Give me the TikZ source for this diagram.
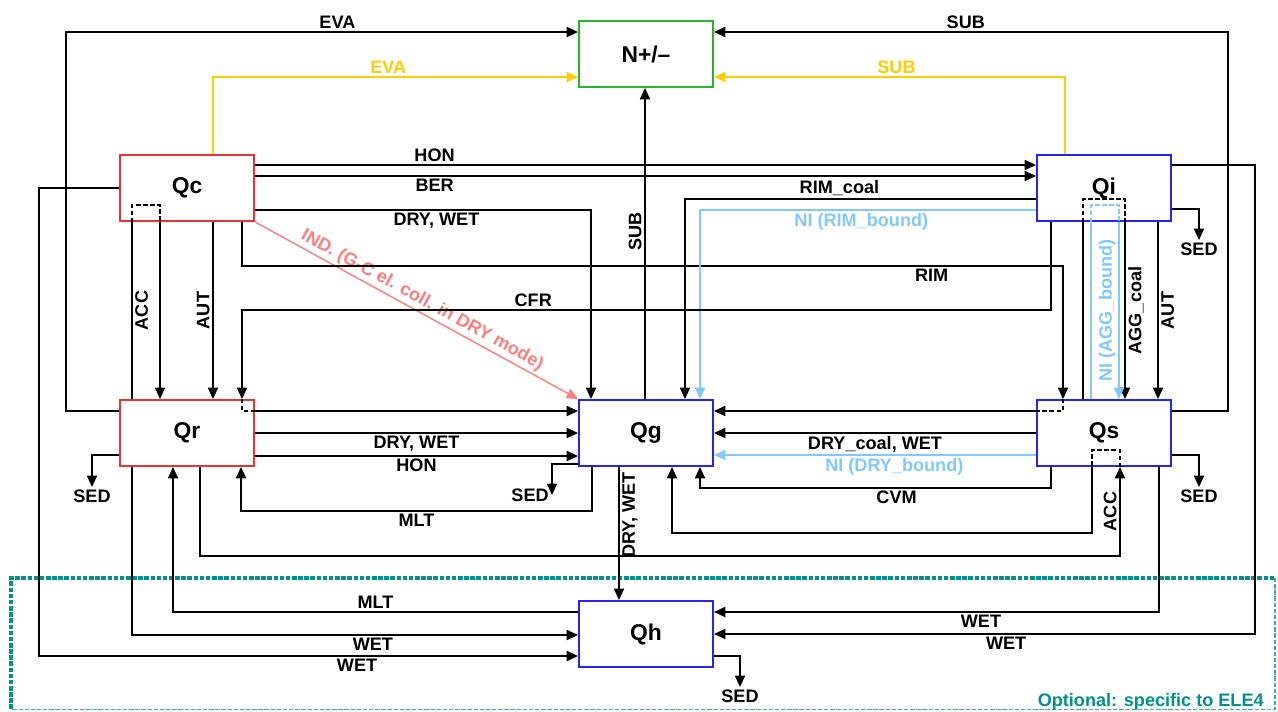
\documentclass[tikz,border=0pt]{standalone}
\usepackage{fontspec}
\setmainfont{Liberation Sans}
\usepackage{tikz}
\usetikzlibrary{arrows.meta}
\definecolor{qred}{RGB}{228,52,52}
\definecolor{qblue}{RGB}{35,35,250}
\definecolor{ngreen}{RGB}{40,180,40}
\definecolor{evay}{RGB}{255,205,0}
\definecolor{niblue}{RGB}{130,200,255}
\definecolor{indred}{RGB}{255,125,125}
\definecolor{optteal}{RGB}{0,145,140}
\newcommand{\lblfont}{\bfseries\fontsize{10.3}{12}\selectfont}

\begin{document}
\begin{tikzpicture}
    [x=0.02cm, y=-0.02cm, line width=0.8pt, >={Triangle[length=6.5pt,width=5.8pt]},
     box/.style={draw, line width=1.1pt, minimum width=2.68cm, minimum height=1.32cm,
       font=\bfseries\fontsize{13}{15}\selectfont},
     lbl/.style={font=\lblfont, inner sep=1.5pt},
     thru/.style={dash pattern=on 2.5pt off 1.5pt}]
    \useasboundingbox (0,0) rectangle (1278,711);
    % optional part
    \draw[optteal, line width=2.2pt, dash pattern=on 2.6pt off 0.9pt] (11,709) -- (11,578) -- (1275,578);
    \draw[optteal!75, line width=0.6pt, dash pattern=on 2.5pt off 1pt] (1275,578) -- (1275,709.5) -- (11,709.5);
    \node[lbl, text=optteal, anchor=east] (opt) at (1267,702) {Optional: specific to ELE4};
    % boxes
    \node[box, draw=ngreen] (N) at (646,54) {N+/–};
    \node[box, draw=qred] (Qc) at (187,188) {Qc};
    \node[box, draw=qblue] (Qi) at (1104,188) {Qi};
    \node[box, draw=qred] (Qr) at (187,433) {Qr};
    \node[box, draw=qblue] (Qg) at (646,433) {Qg};
    \node[box, draw=qblue] (Qs) at (1104,433) {Qs};
    \node[box, draw=qblue] (Qh) at (646,634) {Qh};
    % to N
    \draw[->] (Qr.west |- 0,411) -| (66,32) -- node[lbl,above,pos=.53] {EVA} (N.west |- 0,32);
    \draw[->,evay] (Qc.north -| 213,0) |- node[lbl,above,pos=.74] {EVA} (N.west |- 0,77);
    \draw[->] (Qs.east |- 0,411) -| (1228,32) -- node[lbl,above,pos=.51] {SUB} (N.east |- 0,32);
    \draw[->,evay] (Qi.north -| 1065,0) |- node[lbl,above,pos=.74] {SUB} (N.east |- 0,77);
    \draw[->] (Qg.north -| 645,0) -- node[lbl,above,sloped,pos=.54] {SUB} (N.south -| 645,0);
    % from Qc
    \draw[->] (Qc.east |- 0,165) -- node[lbl,above,pos=.23] {HON} (Qi.west |- 0,165);
    \draw[->] (Qc.east |- 0,176) -- node[lbl,below,pos=.23] {BER} (Qi.west |- 0,176);
    \draw[->] (Qc.east |- 0,210) -| node[lbl,below,pos=.27] {DRY, WET} (Qg.north -| 591,0);
    \draw[->,indred] (Qc.south east) -- node[lbl,above,sloped] {IND. (G-C el. coll. in DRY mode)} (Qg.north west);
    \draw[->] (Qc.south -| 242,0) |- node[lbl,below,pos=.92] {RIM} (1063,266) -- (Qs.north -| 1063,0);
    \draw[thru] (Qs.north -| 1063,0) |- (Qs.west |- 0,411);
    \draw[->] (Qs.west |- 0,411) -- (Qg.east |- 0,411);
    \draw[->] (Qc.west) -| (39,656) -- node[lbl,below,pos=.59] {WET} (Qh.west |- 0,656);
    \draw (Qr.north -| 132,0) -- node[lbl,below,sloped] {ACC} (Qc.south -| 132,0);
    \draw[thru] (Qc.south -| 132,0) |- (160,205) -- (Qc.south -| 160,0);
    \draw[->] (Qc.south -| 160,0) -- (Qr.north -| 160,0);
    \draw[<-] (Qr.north -| 213,0) -- node[lbl,above,sloped] {AUT} (Qc.south -| 213,0);
    % from Qr
    \draw[->] (Qr.east) -- node[lbl,below] {DRY, WET} (Qg.west);
    \draw[->] (Qr.east |- 0,456) -- node[lbl,below] {HON} (Qg.west |- 0,456);
    \draw[->] (Qr.west |- 0,455) -| (92,487) node[lbl,below] {SED};
    \draw[->] (Qr.south -| 200,0) |- (1120,556) -- node[lbl,above,sloped] {ACC} (Qs.south -| 1120,0);
    \draw[thru] (Qs.south -| 1120,0) |- (1092,450) -- (Qs.south -| 1092,0);
    \draw[->] (Qs.south -| 1092,0) |- (672,533) -- (Qg.south -| 672,0);
    \draw[->] (Qr.south -| 132,0) |- node[lbl,below,pos=.77] {WET} (Qh.west |- 0,635);
    % from Qg
    \draw[->] (Qg.west |- 0,464) -| (552,495) node[lbl,left] {SED};
    \draw[->] (Qg.south -| 592,0) |- node[lbl,below,pos=.75] {MLT} (241,511) -- (Qr.south -| 241,0);
    \draw[<-] (Qh.north -| 619,0) -- node[lbl,below,sloped,pos=.64] {DRY, WET} (Qg.south -| 619,0);
    % from Qi
    \draw[->] (Qi.west |- 0,199) -| node[lbl,above,pos=.28] {RIM\_coal} (Qg.north -| 685,0);
    \draw[->,niblue] (Qi.west |- 0,210) -| node[lbl,below,pos=.26] {NI (RIM\_bound)} (Qg.north -| 700,0);
    \draw[->] (Qi.south -| 1051,0) |- node[lbl,above,pos=.82] {CFR} (242,310) -- (Qr.north -| 242,0);
    \draw[thru] (Qr.north -| 242,0) |- (Qr.east |- 0,411);
    \draw[->] (Qr.east |- 0,411) -- (Qg.west |- 0,411);
    \draw[->] (Qi.east |- 0,209) -| (1199,240) node[lbl,below] {SED};
    \draw[->] (Qi.east |- 0,165) -| (1255,634) -- node[lbl,below,pos=.46] {WET} (Qh.east |- 0,634);
    \draw[<-] (Qs.north -| 1158,0) -- node[lbl,below,sloped] {AUT} (Qi.south -| 1158,0);
    \draw (Qs.north -| 1083,0) -- (Qi.south -| 1083,0);
    \draw[thru] (Qi.south -| 1083,0) |- (1125,199) -- (Qi.south -| 1125,0);
    \draw[<-] (Qs.north -| 1125,0) -- node[lbl,below,sloped] {AGG\_coal} (Qi.south -| 1125,0);
    \draw[niblue] (Qs.north -| 1091,0) -- (Qi.south -| 1091,0);
    \draw[niblue,thru] (Qi.south -| 1091,0) |- (1119,205) -- (Qi.south -| 1119,0);
    \draw[<-,niblue] (Qs.north -| 1119,0) -- node[lbl,above,sloped] {NI (AGG\_bound)} (Qi.south -| 1119,0);
    % from Qs
    \draw[->] (Qs.west) -- node[lbl,below] {DRY\_coal, WET} (Qg.east);
    \draw[->,niblue] (Qs.west |- 0,455) -- node[lbl,below,pos=.44] {NI (DRY\_bound)} (Qg.east |- 0,455);
    \draw[->] (Qs.south -| 1051,0) |- node[lbl,below,pos=.72] {CVM} (700,488) -- (Qg.south -| 700,0);
    \draw[->] (Qs.east |- 0,455) -| (1199,487) node[lbl,below] {SED};
    \draw[->] (Qs.south -| 1159,0) |- node[lbl,below,pos=.70] {WET} (Qh.east |- 0,612);
    % from Qh
    \draw[->] (Qh.west |- 0,612) -| node[lbl,above,pos=.25] {MLT} (Qr.south -| 173,0);
    \draw[->] (Qh.east |- 0,656) -| (740,687) node[lbl,below] {SED};
\end{tikzpicture}
\end{document}
